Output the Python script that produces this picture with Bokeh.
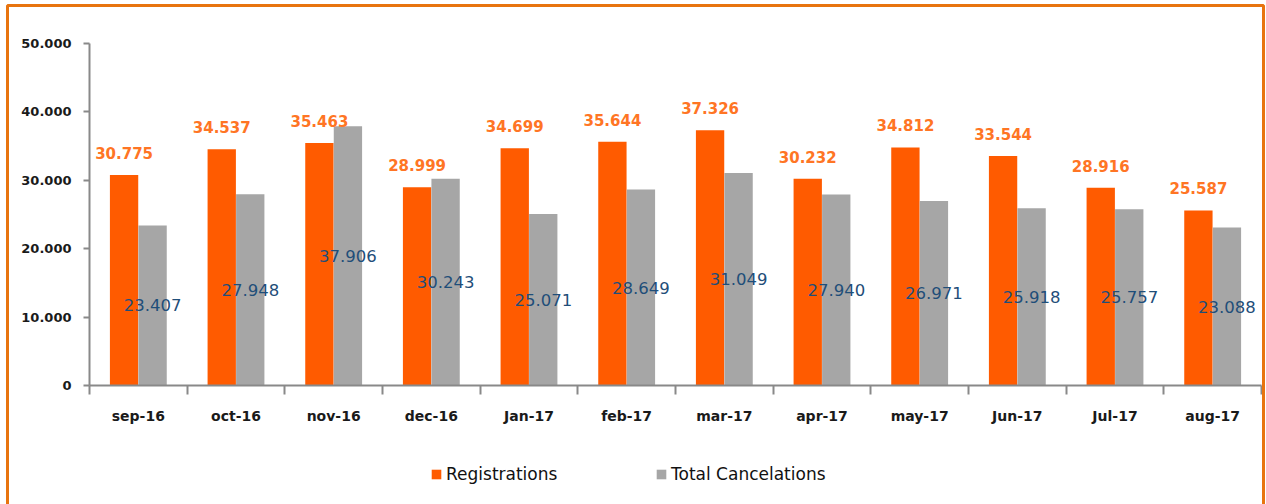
from bokeh.plotting import figure
from bokeh.models import (ColumnDataSource, FixedTicker, Legend, LegendItem,
                          BoxAnnotation, Range1d, LinearAxis)
from bokeh.core.properties import value
from bokeh.embed import file_html
from bokeh.resources import INLINE

months = ["sep-16", "oct-16", "nov-16", "dec-16", "Jan-17", "feb-17",
          "mar-17", "apr-17", "may-17", "Jun-17", "Jul-17", "aug-17"]
registrations = [30775, 34537, 35463, 28999, 34699, 35644,
                 37326, 30232, 34812, 33544, 28916, 25587]
cancelations = [23407, 27948, 37906, 30243, 25071, 28649,
                31049, 27940, 26971, 25918, 25757, 23088]
y_ticks = [0, 10000, 20000, 30000, 40000, 50000]
y_tick_labels = ["0", "10.000", "20.000", "30.000", "40.000", "50.000"]

ORANGE = "#FF5B00"
GRAY = "#A6A6A6"
LABEL_ORANGE = "#FF7524"
LABEL_BLUE = "#1F4E79"
FONT = "DejaVu Sans"
W, H = 1266, 504

# pixel layout of the plotting area inside the canvas
PX_L, PX_R, PX_T, PX_B = 89, 1261, 43, 385
Y_MAX = 50000


def fmt(v):
    return f"{v:,}".replace(",", ".")


n = len(months)
xs_per_px = n / (PX_R - PX_L)
ys_per_px = Y_MAX / (PX_B - PX_T)
x_range = Range1d(-PX_L * xs_per_px, n + (W - PX_R) * xs_per_px)
y_range = Range1d(-(H - PX_B) * ys_per_px, Y_MAX + PX_T * ys_per_px)

centers = [i + 0.5 for i in range(n)]
half = 0.146
src = ColumnDataSource(dict(
    xr=[c - half for c in centers],
    xc=[c + half for c in centers],
    reg=registrations,
    can=cancelations,
    can_mid=[v / 2 for v in cancelations],
    reg_lbl=[fmt(v) for v in registrations],
    can_lbl=[fmt(v) for v in cancelations],
))

p = figure(width=W, height=H, output_backend="svg", toolbar_location=None,
           x_range=x_range, y_range=y_range,
           x_axis_location=None, y_axis_location=None, min_border=0)
p.outline_line_color = None
p.xgrid.visible = False
p.ygrid.visible = False
p.background_fill_color = "white"
p.border_fill_color = "white"

r1 = p.vbar(x="xr", top="reg", width=0.29, source=src, color=ORANGE, line_color=None)
r2 = p.vbar(x="xc", top="can", width=0.29, source=src, color=GRAY, line_color=None)

p.text(x="xr", y="reg", text="reg_lbl", source=src, text_align="center",
       text_baseline="middle", y_offset=-22, text_font=value(FONT),
       text_font_style="bold", text_font_size="15px", text_color=LABEL_ORANGE)
p.text(x="xc", y="can_mid", text="can_lbl", source=src, text_align="center",
       text_baseline="middle", text_font=value(FONT),
       text_font_size="16.5px", text_color=LABEL_BLUE)

# axes (fixed inside the frame)
xa = LinearAxis(fixed_location=0, bounds=(0, n))
xa.ticker = FixedTicker(ticks=centers, minor_ticks=list(range(n + 1)))
xa.major_label_overrides = {c: m for c, m in zip(centers, months)}
xa.major_tick_out = 0
xa.major_tick_in = 0
xa.minor_tick_out = 9
xa.minor_tick_in = 0
xa.minor_tick_line_color = "#898989"
xa.minor_tick_line_width = 2
xa.axis_line_color = "#898989"
xa.axis_line_width = 2
xa.major_label_standoff = 13
xa.major_label_text_font = FONT
xa.major_label_text_font_style = "bold"
xa.major_label_text_font_size = "14px"
xa.major_label_text_color = "#1a1a1a"
p.add_layout(xa, "below")

ya = LinearAxis(fixed_location=0, bounds=(0, Y_MAX))
ya.ticker = FixedTicker(ticks=y_ticks, minor_ticks=[])
ya.major_label_overrides = {t: l for t, l in zip(y_ticks, y_tick_labels)}
ya.major_tick_out = 6
ya.major_tick_in = 0
ya.major_tick_line_color = "#898989"
ya.major_tick_line_width = 2
ya.axis_line_color = "#898989"
ya.axis_line_width = 2
ya.major_label_standoff = 12
ya.major_label_text_font = FONT
ya.major_label_text_font_style = "bold"
ya.major_label_text_font_size = "13px"
ya.major_label_text_color = "#1a1a1a"
p.add_layout(ya, "left")

for rend, label, x in ((r1, "Registrations", 430), (r2, "Total Cancelations", 655)):
    lg = Legend(items=[LegendItem(label=label, renderers=[rend])],
                location=(x, 20), orientation="horizontal",
                padding=0, margin=0, border_line_color=None,
                background_fill_alpha=0, glyph_width=12, glyph_height=12,
                label_standoff=4, label_text_font=FONT,
                label_text_font_size="17px", label_text_color="#111111")
    p.add_layout(lg, "center")

border = BoxAnnotation(left=7, right=1263, top=5, bottom=520,
                       left_units="canvas", right_units="canvas",
                       top_units="canvas", bottom_units="canvas",
                       fill_alpha=0, line_color="#E8740F", line_alpha=1.0,
                       line_width=3)
p.add_layout(border)

open("out.html", "w").write(file_html(p, INLINE))
